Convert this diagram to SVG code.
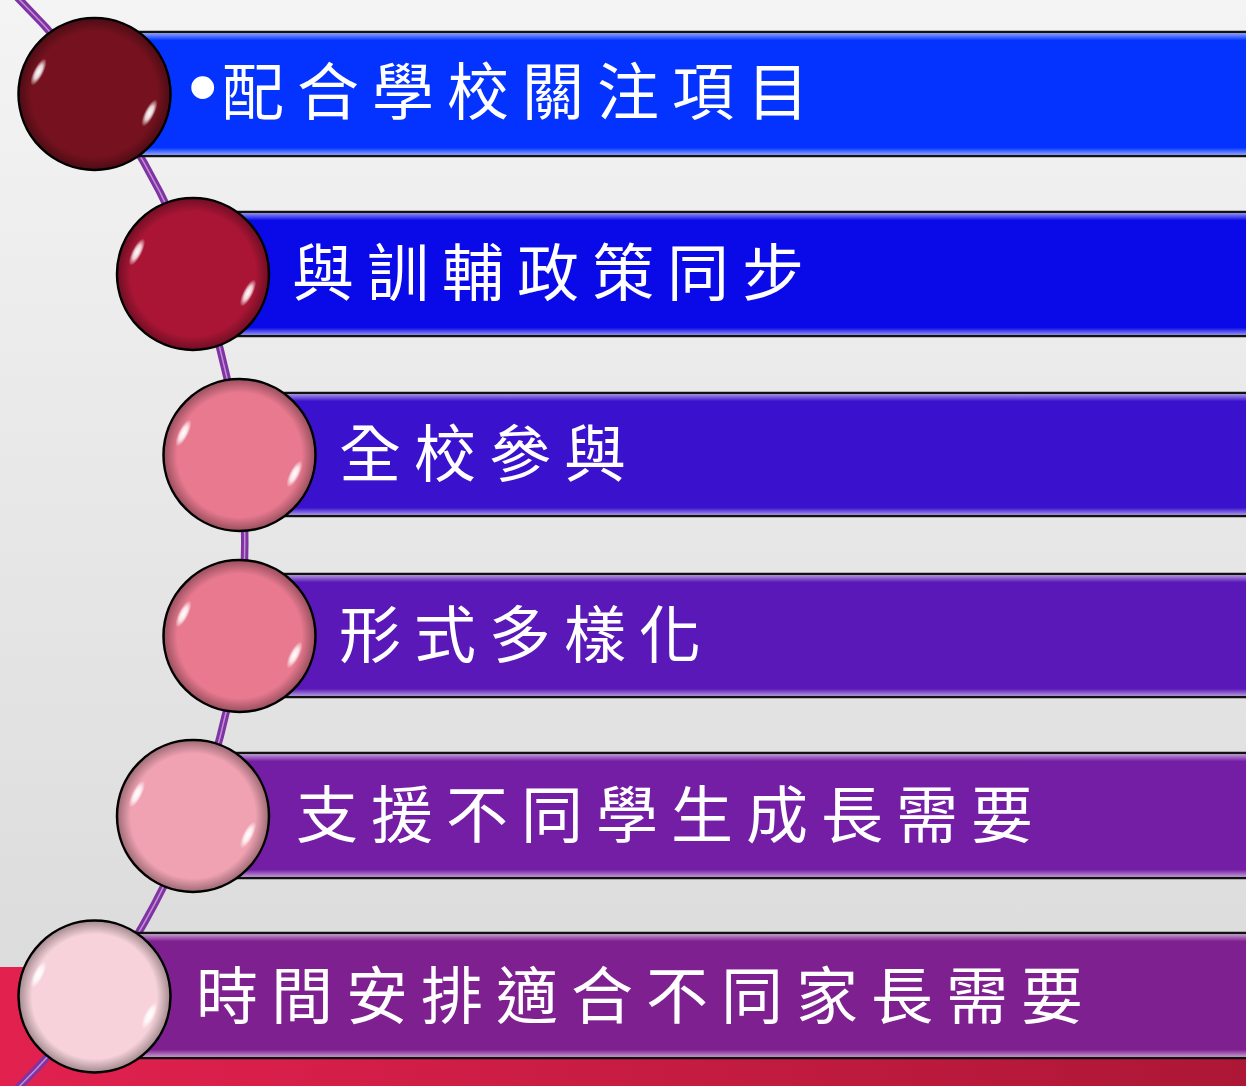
<svg xmlns="http://www.w3.org/2000/svg" width="1246" height="1086" viewBox="0 0 1246 1086">
<style>
.bar{stroke:#111;stroke-width:2.5}
.sheen{fill:url(#barSheen)}
.ball{stroke:#000;stroke-width:2.5}
.rim{fill:url(#rimShade)}
.glint{fill:url(#glintG)}
.lbl{font-family:"Noto Sans CJK TC","Noto Sans CJK SC",sans-serif;font-size:62px;fill:#fff;letter-spacing:13px}
.bul{font-family:"Liberation Sans",sans-serif;font-size:84px;letter-spacing:0}
</style>
<defs>
<linearGradient id="bg" x1="0" y1="0" x2="0" y2="1">
<stop offset="0" stop-color="#f4f4f4"/>
<stop offset="1" stop-color="#d9d9d9"/>
</linearGradient>
<linearGradient id="redBand" x1="0" y1="0" x2="1" y2="0">
<stop offset="0" stop-color="#e2214f"/>
<stop offset="1" stop-color="#ad1736"/>
</linearGradient>
<linearGradient id="barSheen" x1="0" y1="0" x2="0" y2="1">
<stop offset="0" stop-color="#fff" stop-opacity="0.55"/>
<stop offset="0.06" stop-color="#fff" stop-opacity="0"/>
<stop offset="0.94" stop-color="#fff" stop-opacity="0"/>
<stop offset="1" stop-color="#fff" stop-opacity="0.55"/>
</linearGradient>
<radialGradient id="rimShade" cx="0.5" cy="0.5" r="0.5">
<stop offset="0.82" stop-color="#000" stop-opacity="0"/>
<stop offset="1" stop-color="#000" stop-opacity="0.35"/>
</radialGradient>
<radialGradient id="glintG" cx="0.5" cy="0.5" r="0.5">
<stop offset="0" stop-color="#fff" stop-opacity="1"/>
<stop offset="0.5" stop-color="#fff" stop-opacity="0.8"/>
<stop offset="1" stop-color="#fff" stop-opacity="0"/>
</radialGradient>
<g id="glints">
<ellipse class="glint" cx="-56" cy="-22" rx="5" ry="15" transform="rotate(27 -56 -22)"/>
<ellipse class="glint" cx="55" cy="19" rx="5" ry="15" transform="rotate(27 55 19)"/>
</g>
</defs>
<rect width="1246" height="1086" fill="url(#bg)"/>
<rect x="0" y="967" width="1246" height="119" fill="url(#redBand)"/>
<g id="connectors">
<path d="M -1 -20 A 767.7 767.7 0 0 1 -1 1106" fill="none" stroke="#8033a2" stroke-width="7.5"/>
<path d="M -1 -20 A 767.7 767.7 0 0 1 -1 1106" fill="none" stroke="#c08fd6" stroke-width="1.5"/>
</g>
<g id="node1">
<rect class="bar" x="94" y="32" width="1170" height="124" fill="#0433ff"/>
<rect class="sheen" x="94" y="33" width="1170" height="122"/>
<circle class="ball" cx="94.5" cy="94" r="76" fill="#76121f"/>
<circle class="rim" cx="94.5" cy="94" r="76"/>
<use href="#glints" x="94.5" y="94"/>
<text class="lbl" x="188" y="115"><tspan class="bul">•</tspan><tspan x="222">配合學校關注項目</tspan></text>
</g>
<g id="node2">
<rect class="bar" x="193" y="212" width="1070" height="124" fill="#0a0ae8"/>
<rect class="sheen" x="193" y="213" width="1070" height="122"/>
<circle class="ball" cx="193" cy="274" r="76" fill="#aa1535"/>
<circle class="rim" cx="193" cy="274" r="76"/>
<use href="#glints" x="193" y="274"/>
<text class="lbl" x="292" y="296">與訓輔政策同步</text>
</g>
<g id="node3">
<rect class="bar" x="239" y="393" width="1025" height="123" fill="#3a12ce"/>
<rect class="sheen" x="239" y="394" width="1025" height="121"/>
<circle class="ball" cx="239.5" cy="455" r="76" fill="#e8798f"/>
<circle class="rim" cx="239.5" cy="455" r="76"/>
<use href="#glints" x="239.5" y="455"/>
<text class="lbl" x="339" y="477">全校參與</text>
</g>
<g id="node4">
<rect class="bar" x="239" y="574" width="1025" height="123" fill="#5a18b8"/>
<rect class="sheen" x="239" y="575" width="1025" height="121"/>
<circle class="ball" cx="239.5" cy="636" r="76" fill="#e8798f"/>
<circle class="rim" cx="239.5" cy="636" r="76"/>
<use href="#glints" x="239.5" y="636"/>
<text class="lbl" x="339" y="658">形式多樣化</text>
</g>
<g id="node5">
<rect class="bar" x="193" y="753" width="1070" height="125" fill="#741ea5"/>
<rect class="sheen" x="193" y="754" width="1070" height="123"/>
<circle class="ball" cx="193" cy="816" r="76" fill="#f0a2b2"/>
<circle class="rim" cx="193" cy="816" r="76"/>
<use href="#glints" x="193" y="816"/>
<text class="lbl" x="296" y="838">支援不同學生成長需要</text>
</g>
<g id="node6">
<rect class="bar" x="94" y="933" width="1170" height="125" fill="#7f2090"/>
<rect class="sheen" x="94" y="934" width="1170" height="123"/>
<circle class="ball" cx="94.5" cy="996.5" r="76" fill="#f7d2da"/>
<circle class="rim" cx="94.5" cy="996.5" r="76"/>
<use href="#glints" x="94.5" y="996.5"/>
<text class="lbl" x="196" y="1019">時間安排適合不同家長需要</text>
</g>
</svg>
